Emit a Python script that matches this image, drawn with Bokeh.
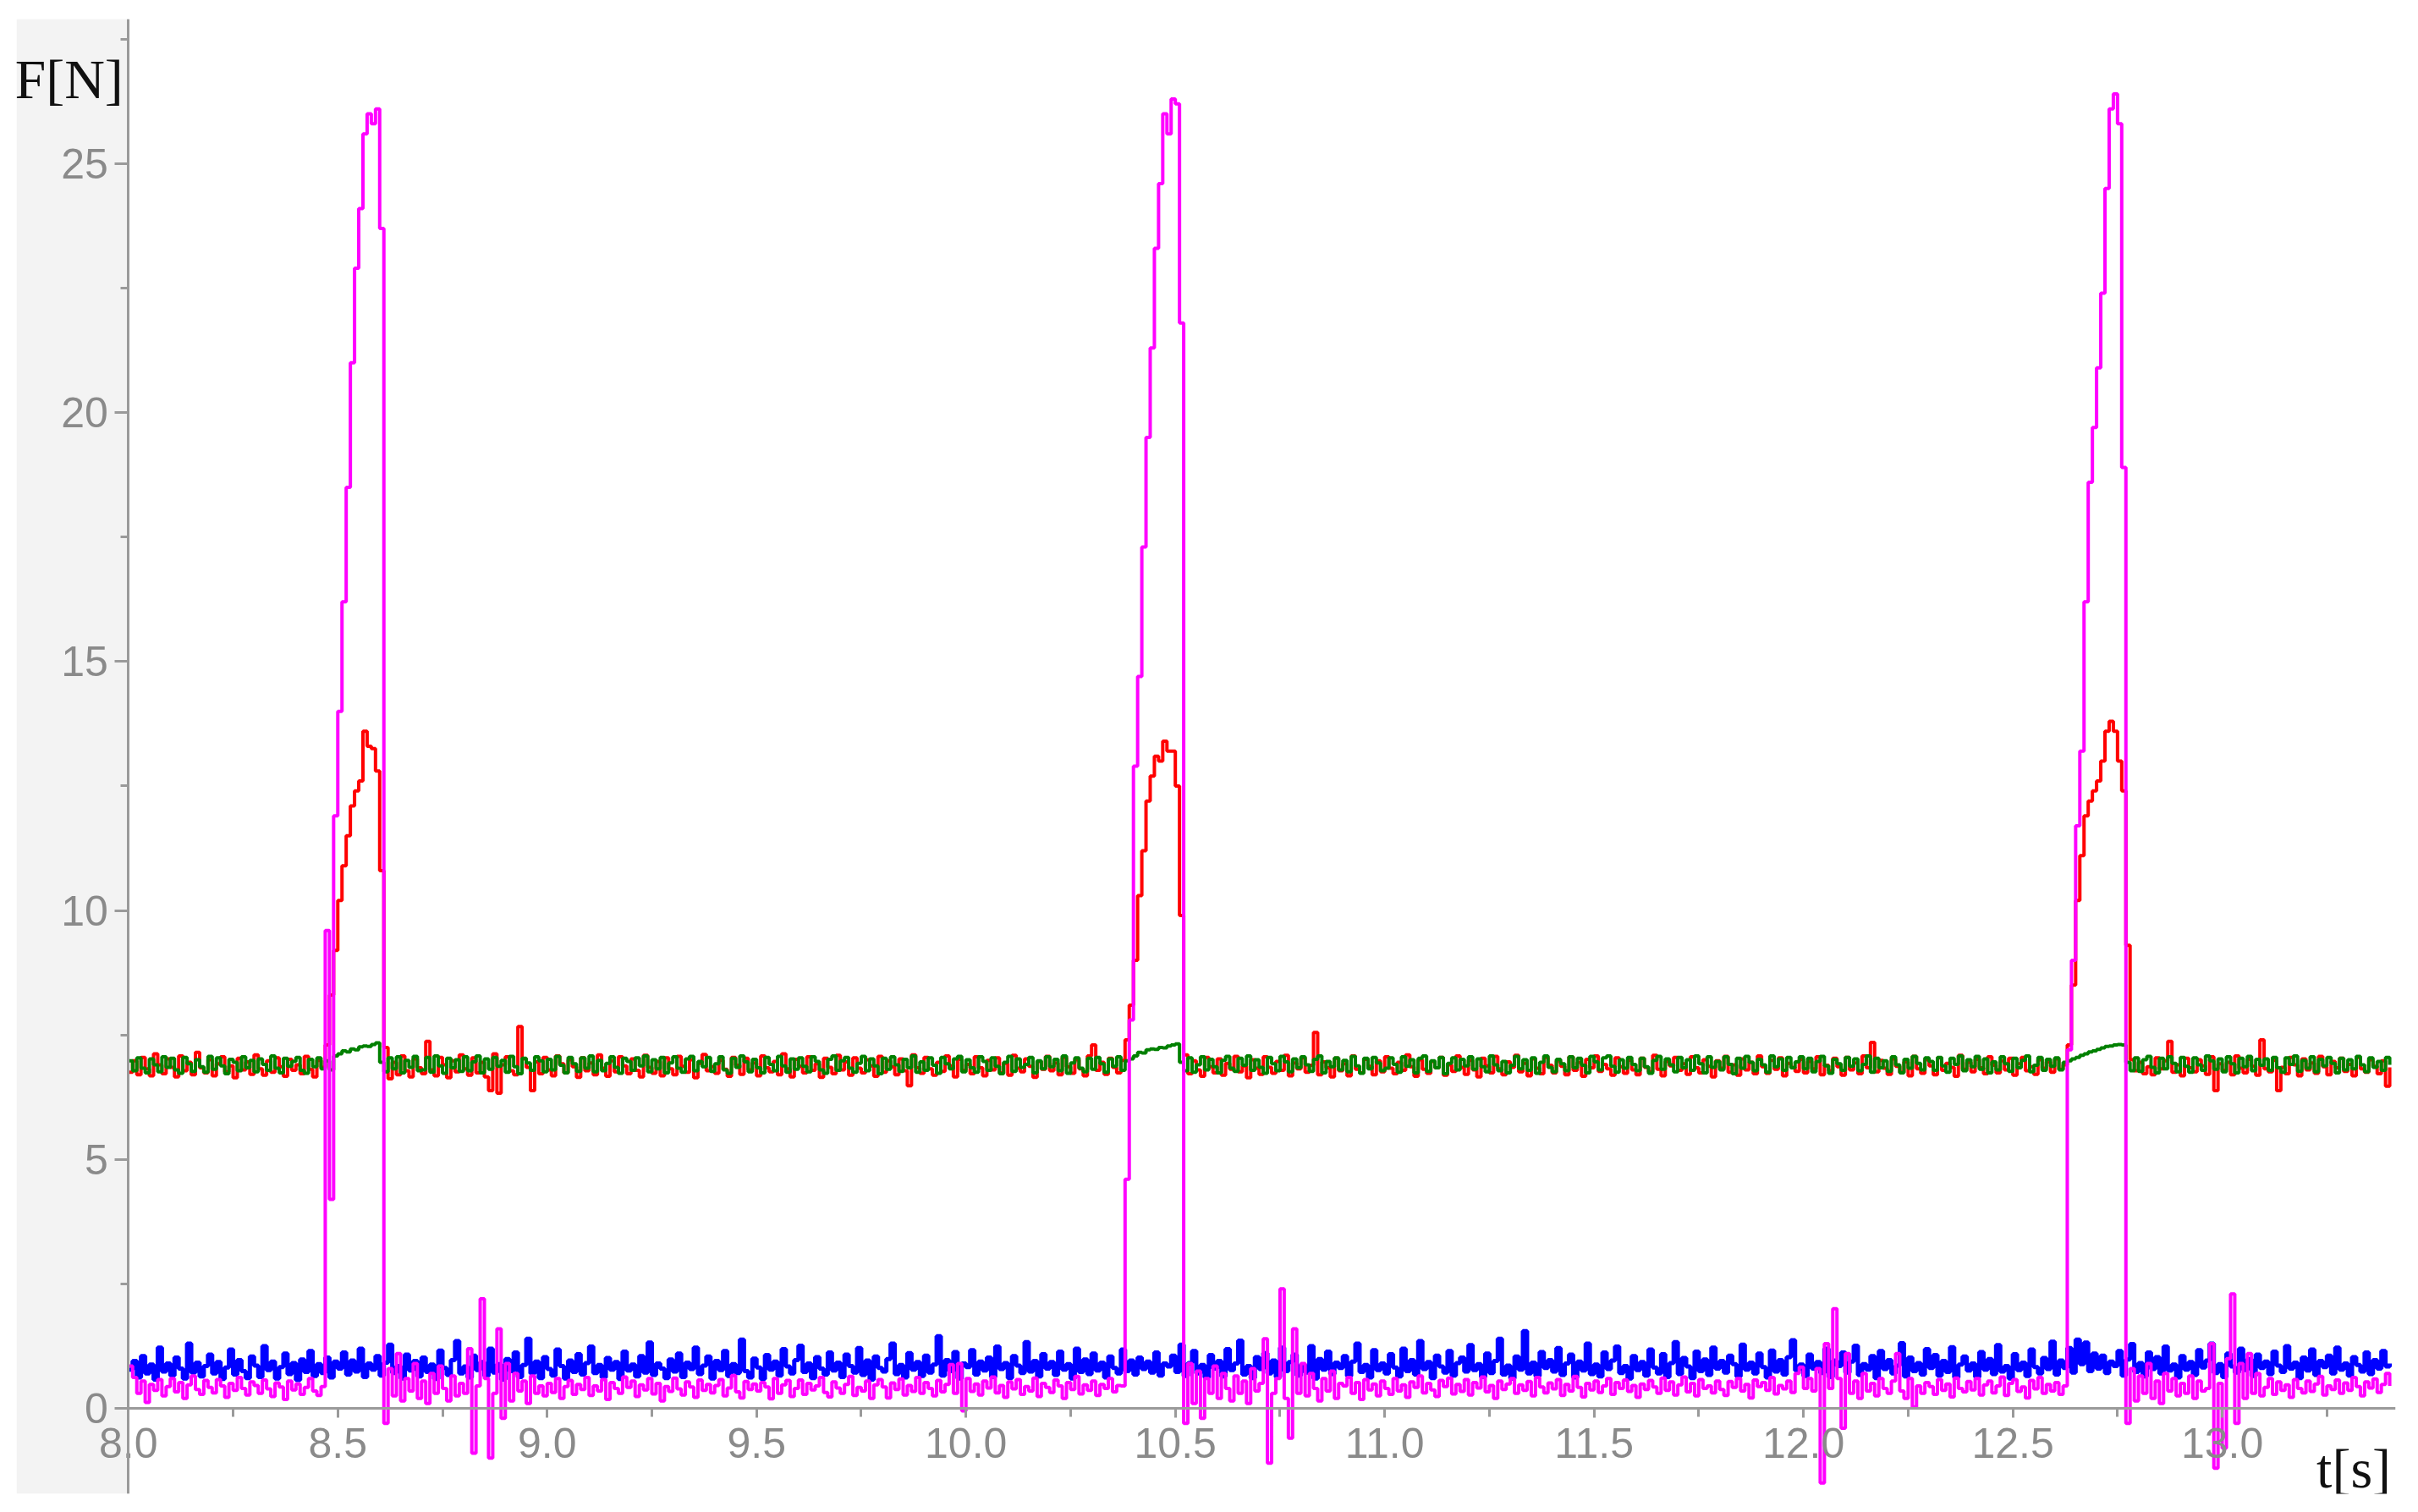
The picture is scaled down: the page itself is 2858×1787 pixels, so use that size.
import numpy as np
from bokeh.plotting import figure
from bokeh.models import SingleIntervalTicker, PrintfTickFormatter, Label, Range1d, BoxAnnotation
from bokeh.embed import file_html
from bokeh.resources import INLINE

# sampling grid of the recorded signals (s)
T_START = 8.0
T_STEP = 0.01

# axis extents and tick spacing
x_view = (7.7327, 13.414)
y_view = (-1.716, 27.905)
x_major_interval = 0.5
y_major_interval = 5

# Force traces F[N], one sample every 0.01 s from 8.00 s to 13.40 s (10 samples per row)
magenta_F = [
    0.85,0.62,0.30,0.55,0.12,0.48,0.36,0.58,0.25,0.44,
    0.60,0.33,0.52,0.20,0.47,0.65,0.38,0.28,0.56,0.42,
    0.31,0.58,0.45,0.22,0.50,0.36,0.62,0.40,0.27,0.53,
    0.46,0.30,0.57,0.39,0.24,0.51,0.43,0.18,0.55,0.37,
    0.49,0.28,0.42,0.60,0.35,0.26,0.44,9.60,4.20,11.90,
    14.00,16.20,18.50,21.00,22.90,24.10,25.60,26.00,25.80,26.10,
    23.70,-0.30,0.80,0.25,1.10,0.15,0.60,0.35,0.90,0.20,
    0.55,0.10,0.70,0.30,0.85,0.40,0.15,0.65,0.25,0.50,
    0.30,1.20,-0.90,0.45,2.20,0.60,-1.00,0.30,1.60,-0.20,
    0.90,0.15,0.70,0.35,0.55,0.10,0.65,0.30,0.45,0.25,
    0.50,0.32,0.60,0.20,0.44,0.56,0.28,0.48,0.38,0.62,
    0.26,0.45,0.35,0.58,0.18,0.52,0.40,0.30,0.63,0.42,
    0.55,0.24,0.47,0.37,0.60,0.29,0.50,0.15,0.44,0.34,
    0.61,0.39,0.27,0.53,0.43,0.22,0.57,0.36,0.48,0.31,
    0.46,0.58,0.25,0.41,0.66,0.33,0.21,0.54,0.38,0.49,
    0.35,0.52,0.43,0.19,0.60,0.30,0.47,0.56,0.24,0.40,
    0.57,0.28,0.50,0.37,0.45,0.62,0.32,0.23,0.53,0.41,
    0.30,0.48,0.64,0.26,0.42,0.35,0.55,0.20,0.47,0.58,
    0.43,0.21,0.51,0.38,0.59,0.27,0.46,0.34,0.62,0.30,
    0.52,0.40,0.25,0.56,0.33,0.48,0.88,0.30,0.90,-0.05,
    0.60,0.34,0.49,0.27,0.55,0.41,0.63,0.31,0.46,0.22,
    0.53,0.39,0.58,0.28,0.44,0.35,0.61,0.24,0.50,0.42,
    0.32,0.57,0.45,0.20,0.52,0.38,0.64,0.29,0.47,0.36,
    0.55,0.26,0.48,0.40,0.60,0.33,0.46,0.45,4.60,7.80,
    12.90,14.70,17.30,19.50,21.30,23.30,24.60,26.00,25.60,26.30,
    26.20,21.80,-0.30,0.90,0.10,0.75,-0.20,0.60,0.30,0.85,
    0.20,0.70,0.40,0.15,0.65,0.30,0.55,0.10,0.80,0.35,
    0.50,1.40,-1.10,0.30,0.60,2.40,0.20,-0.60,1.60,0.30,
    0.90,0.25,0.70,0.40,0.15,0.60,0.35,0.75,0.20,0.50,
    0.45,0.62,0.30,0.52,0.18,0.58,0.37,0.49,0.25,0.55,
    0.40,0.28,0.60,0.35,0.47,0.22,0.53,0.42,0.65,0.31,
    0.50,0.37,0.24,0.56,0.44,0.61,0.29,0.48,0.34,0.58,
    0.27,0.52,0.41,0.63,0.33,0.46,0.20,0.55,0.38,0.49,
    0.60,0.30,0.47,0.36,0.54,0.25,0.62,0.43,0.31,0.51,
    0.39,0.58,0.26,0.48,0.35,0.64,0.42,0.23,0.50,0.37,
    0.55,0.32,0.45,0.60,0.28,0.52,0.40,0.57,0.34,0.46,
    0.22,0.49,0.38,0.56,0.43,0.30,0.61,0.36,0.53,0.27,
    0.47,0.63,0.33,0.50,0.25,0.58,0.40,0.45,0.31,0.55,
    0.38,0.26,0.54,0.42,0.60,0.35,0.48,0.21,0.57,0.44,
    0.52,0.36,0.62,0.29,0.46,0.39,0.55,0.32,0.70,0.83,
    0.40,0.60,0.35,0.80,-1.50,1.30,0.40,2.00,0.60,-0.40,
    1.10,0.30,0.55,0.20,0.70,0.35,0.50,0.25,0.60,0.40,
    0.30,0.55,1.10,0.35,0.20,0.60,0.03,0.45,0.30,0.52,
    0.44,0.28,0.58,0.36,0.49,0.23,0.61,0.40,0.33,0.54,
    0.37,0.60,0.27,0.47,0.55,0.31,0.45,0.63,0.26,0.50,
    0.58,0.34,0.43,0.21,0.56,0.39,0.62,0.30,0.48,0.35,
    0.52,0.28,0.45,7.20,9.00,11.70,13.20,16.20,18.60,19.70,
    20.90,22.40,24.50,26.10,26.40,25.80,18.90,-0.30,0.80,0.15,
    0.65,0.30,0.90,0.20,0.55,0.10,0.70,0.35,0.60,0.25,
    0.50,0.30,0.65,0.20,0.55,0.35,0.40,1.30,-1.20,0.50,
    -0.80,1.00,2.30,-0.30,0.90,0.20,1.10,0.30,0.70,0.25,
    0.42,0.60,0.28,0.53,0.36,0.47,0.22,0.58,0.40,0.31,
    0.55,0.34,0.49,0.64,0.27,0.45,0.38,0.57,0.30,0.51,
    0.36,0.62,0.44,0.25,0.53,0.41,0.59,0.32,0.48,0.70,
    0.45,
]

red_F = [
    6.75,6.98,6.70,7.05,6.82,6.68,7.12,6.90,6.72,7.02,
    6.85,6.66,7.08,6.78,6.95,6.70,7.15,6.84,6.74,7.00,
    6.68,6.92,7.06,6.76,6.88,6.64,7.03,6.80,6.96,6.71,
    7.10,6.82,6.69,6.98,6.75,7.04,6.86,6.67,7.01,6.79,
    6.90,6.72,7.07,6.81,6.66,6.99,6.85,7.30,8.30,9.20,
    10.20,10.90,11.50,12.10,12.40,12.60,13.60,13.30,13.25,12.80,
    10.80,7.25,6.62,6.95,6.70,7.08,6.78,6.66,7.02,6.84,
    6.72,7.37,6.80,6.68,7.05,6.90,6.64,6.98,6.76,7.10,
    6.82,6.69,7.04,6.74,6.95,6.66,6.38,7.12,6.33,6.90,
    7.06,6.78,6.70,7.67,7.02,6.85,6.38,6.96,6.72,7.05,
    6.80,6.68,7.08,6.92,6.74,7.00,6.86,6.65,7.04,6.78,
    6.94,6.70,7.10,6.83,6.67,6.98,6.76,7.06,6.88,6.72,
    7.02,6.79,6.66,7.09,6.85,6.73,6.97,6.68,7.04,6.82,
    6.70,7.07,6.87,6.75,7.00,6.64,6.93,7.11,6.78,6.86,
    6.73,6.99,6.81,6.67,7.05,6.89,6.71,7.03,6.80,6.94,
    6.68,7.08,6.84,6.76,6.97,6.70,7.12,6.82,6.66,7.01,
    6.87,6.74,7.06,6.79,6.92,6.65,7.03,6.85,6.72,7.09,
    6.80,6.96,6.69,7.04,6.83,6.74,7.00,6.88,6.67,7.07,
    6.75,6.98,6.86,6.70,7.02,6.78,6.48,7.10,6.84,6.73,
    7.05,6.82,6.69,6.95,6.77,7.08,6.88,6.66,7.01,6.79,
    6.91,6.72,7.06,6.84,6.68,6.99,6.80,7.04,6.74,6.93,
    6.69,7.09,6.83,6.76,7.02,6.87,6.65,6.97,6.81,7.07,
    6.78,6.94,6.70,7.05,6.86,6.73,7.00,6.82,6.68,7.08,
    7.30,6.79,6.95,6.71,7.03,6.85,6.74,6.99,7.40,8.10,
    9.00,10.30,11.20,12.20,12.70,13.10,13.00,13.40,13.20,13.20,
    12.50,9.90,7.10,6.72,6.98,6.80,6.67,7.05,6.86,6.74,
    7.02,6.69,6.93,6.81,7.07,6.76,6.88,6.64,7.00,6.83,
    6.71,7.06,6.85,6.73,6.97,6.79,7.09,6.68,6.94,6.82,
    7.04,6.75,6.89,7.55,6.70,6.96,6.84,6.66,7.03,6.78,
    6.92,6.68,7.08,6.81,6.74,7.01,6.87,6.70,6.98,6.76,
    7.06,6.83,6.72,6.95,6.79,7.10,6.86,6.67,7.00,6.81,
    6.73,6.97,6.84,7.05,6.69,6.90,6.77,7.08,6.85,6.71,
    6.99,6.80,6.66,7.03,6.88,6.74,7.07,6.82,6.70,6.96,
    6.85,7.09,6.76,6.93,6.68,7.02,6.83,6.72,7.05,6.89,
    6.74,6.98,6.87,6.70,7.06,6.79,6.95,6.67,7.01,6.84,
    7.08,6.77,6.91,6.82,6.69,7.04,6.86,6.73,6.99,6.80,
    6.70,7.03,6.85,6.76,7.09,6.81,6.68,6.97,6.88,7.05,
    6.79,6.92,6.71,7.06,6.84,6.74,7.00,6.87,6.66,6.98,
    6.83,7.07,6.75,6.90,6.69,7.02,6.80,6.95,6.72,7.08,
    6.86,6.73,6.99,6.81,7.04,6.68,6.93,6.85,6.77,7.01,
    6.74,6.97,6.82,7.06,6.70,6.89,6.78,7.03,6.86,6.69,
    7.05,6.80,6.94,6.72,7.08,6.84,7.35,6.76,6.99,6.83,
    6.71,7.02,6.87,6.75,6.96,6.68,7.07,6.82,6.73,7.00,
    6.88,6.70,7.04,6.79,6.93,6.85,6.67,7.09,6.81,6.95,
    6.76,7.01,6.84,6.72,7.06,6.89,6.74,6.98,6.80,7.03,
    6.69,6.92,7.05,6.78,6.86,6.71,7.00,6.83,6.96,6.75,
    7.02,6.81,6.90,7.30,8.50,10.20,11.10,11.90,12.20,12.40,
    12.60,13.00,13.60,13.80,13.60,13.00,12.40,9.30,7.00,6.78,
    6.95,6.72,6.86,6.70,7.04,6.82,6.98,7.37,6.75,6.90,
    6.68,7.03,6.84,6.76,7.00,6.88,6.71,7.06,6.38,6.92,
    6.79,6.95,6.70,7.08,6.83,6.74,7.01,6.87,6.69,7.40,
    6.82,6.76,6.99,6.38,6.85,6.72,7.05,6.90,6.68,7.02,
    6.80,6.94,6.73,7.07,6.86,6.70,6.97,6.84,7.03,6.77,
    6.91,6.68,7.05,6.82,6.75,7.00,6.87,6.72,6.98,6.47,
    6.85,
]

green_F = [
    6.98,6.78,7.04,6.83,6.74,7.02,6.90,6.76,7.06,6.85,
    7.03,6.80,6.73,7.05,6.92,6.77,7.00,6.86,6.75,7.07,
    6.81,7.04,6.88,6.72,7.01,6.95,6.78,7.06,6.84,6.99,
    6.76,7.02,6.91,6.79,7.08,6.83,6.74,7.03,6.87,6.97,
    7.05,6.79,6.73,7.01,6.86,7.04,6.82,6.98,6.80,7.08,
    7.12,7.18,7.16,7.22,7.20,7.26,7.28,7.27,7.31,7.34,
    6.95,6.76,7.04,6.82,7.06,6.74,6.99,6.85,7.07,6.78,
    6.80,7.05,6.75,7.08,6.88,6.73,7.03,6.84,7.00,6.77,
    7.06,6.78,6.96,7.08,6.74,7.02,6.81,7.05,6.87,6.99,
    6.75,7.07,6.86,6.72,7.03,6.94,6.79,7.06,6.98,6.76,
    7.01,6.80,7.07,6.89,6.74,7.05,6.92,6.77,7.04,6.83,
    7.08,6.76,6.99,6.78,6.93,7.06,6.85,6.73,7.03,6.97,
    6.79,7.04,6.88,7.08,6.76,7.00,6.82,7.05,6.74,6.94,
    7.06,6.83,6.75,7.02,7.07,6.78,6.97,6.86,7.05,6.77,
    6.92,7.06,6.80,6.73,7.03,6.85,7.08,6.96,6.76,7.01,
    6.84,6.74,7.05,6.91,6.78,7.07,6.88,6.75,7.02,6.81,
    7.04,6.87,6.76,7.06,6.97,6.80,6.73,7.01,7.08,6.79,
    6.98,7.05,6.83,6.75,6.93,7.07,6.78,7.02,6.88,6.72,
    7.03,6.81,7.06,6.90,6.77,7.01,6.84,7.08,6.75,6.96,
    6.79,7.04,6.89,6.73,7.05,6.92,6.82,7.02,7.07,6.76,
    7.00,6.84,6.75,7.06,6.97,6.79,7.04,6.87,6.72,6.95,
    7.07,6.77,7.02,6.85,6.91,7.05,6.74,6.98,6.82,7.06,
    6.86,7.01,6.78,7.08,6.73,6.94,7.04,6.83,6.76,7.03,
    6.81,7.05,6.92,6.75,7.02,6.87,7.06,6.79,6.98,7.02,
    7.08,7.15,7.14,7.20,7.22,7.21,7.25,7.24,7.28,7.30,
    7.32,6.95,6.78,7.04,6.75,6.90,7.06,6.80,7.01,6.86,
    6.74,6.99,7.07,6.83,6.77,7.03,6.89,7.08,6.79,7.00,
    6.85,6.73,7.05,6.92,6.78,7.07,6.96,6.76,7.02,6.84,
    7.06,6.90,6.77,7.01,7.08,6.74,6.97,6.86,7.04,6.80,
    6.99,6.76,7.07,6.88,6.73,7.03,6.82,7.05,6.94,6.78,
    6.83,7.04,6.91,6.75,7.06,6.87,7.00,6.74,7.03,7.08,
    6.77,6.98,6.84,7.05,6.72,6.93,7.04,6.80,7.01,6.88,
    7.06,6.81,7.02,6.86,6.76,7.08,6.90,6.78,6.97,6.74,
    6.89,7.07,6.82,7.00,6.79,7.04,6.73,6.95,7.08,6.85,
    6.76,7.01,6.92,6.78,7.06,6.84,7.03,6.89,6.74,7.07,
    6.96,6.80,7.04,7.08,6.87,6.75,7.00,6.83,7.05,6.91,
    6.78,7.03,6.86,6.73,6.99,7.07,6.81,7.02,6.90,6.76,
    7.05,6.84,7.00,6.79,7.08,6.92,6.74,7.06,6.85,6.97,
    6.80,7.06,6.91,6.72,7.03,6.83,7.07,6.95,6.78,7.01,
    6.90,6.75,7.08,6.86,7.02,6.79,7.05,6.84,6.96,7.06,
    6.82,7.03,6.76,6.97,7.07,6.88,6.73,7.01,6.92,6.79,
    7.05,6.87,7.02,6.78,6.91,7.08,6.75,7.03,6.84,6.98,
    6.77,7.06,6.90,6.74,7.01,6.83,7.07,6.93,6.80,7.04,
    6.97,6.79,7.05,6.88,6.75,7.03,6.91,7.08,6.78,7.00,
    6.86,7.07,6.81,7.02,6.74,6.96,6.80,7.06,6.92,6.77,
    7.03,6.84,6.99,7.08,6.76,6.89,7.05,6.79,7.01,6.87,
    7.04,6.80,6.95,6.98,7.02,7.05,7.09,7.12,7.16,7.18,
    7.21,7.24,7.27,7.28,7.30,7.31,7.30,6.95,6.78,7.04,
    6.77,7.00,7.07,6.85,6.74,7.03,6.82,7.06,6.93,6.76,
    7.05,6.87,6.75,7.04,6.90,6.79,7.08,6.98,6.81,7.02,
    6.76,7.06,6.92,6.74,7.03,6.86,7.07,6.78,7.01,6.89,
    7.02,6.79,7.05,6.84,6.75,7.04,6.91,7.08,6.77,6.99,
    6.83,7.06,6.76,7.01,6.88,7.05,6.93,6.74,7.03,6.80,
    7.00,6.82,7.07,6.90,6.76,7.04,6.85,6.97,6.79,7.05,
    6.90,
]

blue_F = [
    0.78,0.95,0.62,1.05,0.70,0.88,0.58,1.22,0.74,0.90,
    0.66,1.02,0.80,0.60,1.30,0.72,0.92,0.64,0.85,1.08,
    0.70,0.93,0.59,0.82,1.18,0.68,0.97,0.75,0.61,1.04,
    0.86,0.63,1.25,0.77,0.94,0.60,0.83,1.10,0.69,0.91,
    0.57,0.98,0.73,1.15,0.65,0.89,0.71,1.02,0.62,0.94,
    0.80,1.12,0.68,0.96,0.74,1.20,0.63,0.90,0.78,1.05,
    0.66,0.92,1.28,0.71,0.85,0.60,1.08,0.76,0.95,0.64,
    1.02,0.73,0.88,0.59,1.16,0.81,0.67,0.97,1.35,0.70,
    0.84,0.62,1.06,0.77,0.93,0.65,1.20,0.72,0.89,0.58,
    0.99,0.75,1.12,0.63,0.87,1.40,0.70,0.94,0.61,1.03,
    0.79,0.66,1.18,0.85,0.60,0.96,0.73,1.09,0.68,0.91,
    1.24,0.71,0.87,0.62,1.01,0.78,0.93,0.59,1.14,0.76,
    0.88,0.64,1.05,0.72,1.32,0.67,0.90,0.80,0.61,0.98,
    0.74,1.10,0.63,0.92,0.79,1.22,0.69,0.86,1.04,0.60,
    0.95,0.77,1.15,0.65,0.89,0.71,1.38,0.75,0.62,1.00,
    0.82,0.59,1.07,0.78,0.94,0.66,1.19,0.84,0.70,0.97,
    1.26,0.73,0.90,0.61,1.03,0.80,0.68,1.12,0.76,0.92,
    0.63,1.08,0.85,0.72,1.21,0.67,0.96,0.58,1.04,0.81,
    0.74,0.99,1.30,0.69,0.87,0.62,1.11,0.78,0.93,0.65,
    1.06,0.72,0.88,1.45,0.66,0.97,0.75,1.13,0.60,0.90,
    0.83,1.17,0.68,0.94,0.76,1.02,0.63,1.24,0.79,0.91,
    0.61,1.05,0.86,0.71,1.33,0.74,0.95,0.64,1.09,0.80,
    0.93,0.67,1.14,0.78,0.89,0.60,1.20,0.73,0.98,0.69,
    1.10,0.76,0.92,0.62,1.04,0.81,0.70,1.18,0.75,0.96,
    0.68,1.02,0.79,0.94,0.72,1.12,0.66,0.90,0.84,1.06,
    0.73,1.28,0.65,0.91,1.15,0.70,0.87,0.62,1.07,0.80,
    0.95,0.64,1.19,0.77,0.90,1.36,0.68,0.85,0.61,1.03,
    0.79,1.11,0.70,0.96,0.63,1.22,0.75,0.93,1.08,0.66,
    0.88,0.72,1.25,0.60,0.99,0.78,1.14,0.69,0.92,0.81,
    1.05,0.65,0.94,1.30,0.73,0.87,0.62,1.17,0.77,0.90,
    0.70,1.09,0.82,0.64,1.20,0.75,0.97,0.68,1.35,0.79,
    0.93,0.61,1.06,0.84,0.72,1.15,0.66,0.91,1.02,0.74,
    1.27,0.77,0.89,0.63,1.10,0.71,0.95,1.40,0.68,0.86,
    0.60,1.04,0.78,1.55,0.70,0.92,0.65,1.13,0.81,0.97,
    0.74,1.21,0.67,0.90,1.08,0.62,0.94,0.76,1.30,0.69,
    0.88,0.64,1.12,0.79,0.96,1.24,0.71,0.85,0.60,1.05,
    0.77,0.93,0.66,1.18,0.82,0.70,1.09,0.63,0.91,1.33,
    0.69,1.01,0.84,0.61,1.14,0.75,0.98,0.67,1.22,0.80,
    0.95,0.72,1.06,0.89,0.64,1.28,0.78,0.92,0.70,1.10,
    0.83,0.62,1.16,0.74,0.97,0.68,1.03,1.37,0.76,0.88,
    0.65,1.08,0.80,0.93,0.71,1.20,0.63,0.96,0.85,1.12,
    0.72,0.94,1.26,0.67,0.89,0.78,1.05,0.61,1.15,0.79,
    0.97,0.70,0.86,1.31,0.64,1.02,0.75,0.91,0.68,1.19,
    0.81,1.07,0.66,0.95,0.73,1.23,0.62,0.88,1.04,0.76,
    0.90,0.63,1.13,0.78,0.99,0.69,1.27,0.74,0.85,0.60,
    1.09,0.77,0.92,0.65,1.18,0.83,0.70,1.01,0.79,1.34,
    0.68,0.96,0.81,1.21,0.72,1.38,0.89,1.32,0.75,1.10,
    0.80,1.06,0.71,0.94,0.85,1.15,0.66,0.98,1.29,0.73,
    0.91,0.64,1.12,0.79,1.03,0.70,1.24,0.76,0.88,0.62,
    1.05,0.78,0.93,0.67,1.17,0.82,0.96,1.30,0.71,0.89,
    0.63,1.10,0.84,0.72,1.20,0.77,0.99,0.65,1.08,0.81,
    0.94,0.69,1.14,0.86,0.73,1.25,0.80,0.92,0.61,1.02,
    0.76,1.18,0.67,0.95,0.83,1.06,0.70,1.22,0.78,0.90,
    0.66,1.03,0.87,0.74,1.12,0.69,0.97,0.80,1.15,0.84,
    0.90,
]

n = len(magenta_F)
t = np.round(T_START + T_STEP * np.arange(n), 2)

p = figure(width=2842, height=1771,
           x_range=Range1d(*x_view), y_range=Range1d(*y_view),
           output_backend="svg", toolbar_location=None,
           min_border_left=19, min_border_right=11,
           min_border_top=22, min_border_bottom=6)
p.background_fill_color = "white"
p.border_fill_color = "white"
p.outline_line_color = None
p.grid.visible = False

# grey panel behind the F axis
p.add_layout(BoxAnnotation(right=T_START, fill_color="#f3f3f3", fill_alpha=1.0,
                           line_color=None, level="underlay"))

for series, col, w in [(blue_F, "#0000ff", 5), (red_F, "#ff0000", 4),
                       (green_F, "#008000", 4), (magenta_F, "#ff00ff", 4)]:
    p.step(t, series, mode="after", line_color=col, line_width=w)

AXIS_GREY = "#9a9a9a"
LABEL_GREY = "#8a8a8a"

xa = p.xaxis[0]
xa.fixed_location = 0
xa.bounds = (T_START, x_view[1])
xa.ticker = SingleIntervalTicker(interval=x_major_interval, num_minor_ticks=2)
xa.formatter = PrintfTickFormatter(format="%.1f")
xa.axis_line_color = AXIS_GREY
xa.axis_line_width = 3
xa.major_tick_line_color = AXIS_GREY
xa.minor_tick_line_color = AXIS_GREY
xa.major_tick_line_width = 3
xa.minor_tick_line_width = 3
xa.major_tick_in = 0
xa.major_tick_out = 11
xa.minor_tick_in = 0
xa.minor_tick_out = 10
xa.major_label_text_font = "Liberation Sans"
xa.major_label_text_font_size = "50px"
xa.major_label_text_color = LABEL_GREY
xa.major_label_standoff = 12

ya = p.yaxis[0]
ya.fixed_location = T_START
ya.ticker = SingleIntervalTicker(interval=y_major_interval, num_minor_ticks=2)
ya.axis_line_color = AXIS_GREY
ya.axis_line_width = 3
ya.major_tick_line_color = AXIS_GREY
ya.minor_tick_line_color = AXIS_GREY
ya.major_tick_line_width = 3
ya.minor_tick_line_width = 3
ya.major_tick_in = 0
ya.major_tick_out = 16
ya.minor_tick_in = 0
ya.minor_tick_out = 9
ya.major_label_text_font = "Liberation Sans"
ya.major_label_text_font_size = "50px"
ya.major_label_text_color = LABEL_GREY
ya.major_label_standoff = 8

p.add_layout(Label(x=T_START, y=26.7, x_offset=-6, text="F[N]", text_align="right",
                   text_baseline="alphabetic", text_font="Liberation Serif",
                   text_font_size="66px", text_color="#111111"))
p.add_layout(Label(x=13.403, y=-1.21, text="t[s]", text_align="right",
                   text_baseline="alphabetic", text_font="Liberation Serif",
                   text_font_size="66px", text_color="#111111"))

open("out.html", "w").write(file_html(p, INLINE))
